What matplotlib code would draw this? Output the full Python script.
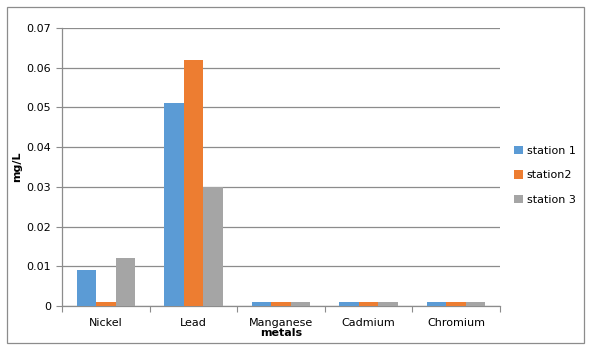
import numpy as np
from matplotlib import pyplot as plt
from matplotlib.patches import Rectangle

# metal concentrations at each station
metals = ['Nickel', 'Lead', 'Manganese', 'Cadmium', 'Chromium']
station1 = [0.009, 0.051, 0.001, 0.001, 0.001]
station2 = [0.001, 0.062, 0.001, 0.001, 0.001]
station3 = [0.012, 0.030, 0.001, 0.001, 0.001]
series_names = ['station 1', 'station2', 'station 3']
colors = ['#5B9BD5', '#ED7D31', '#A5A5A5']

plt.rcParams['font.family'] = 'DejaVu Sans'
plt.rcParams['font.size'] = 8

fig = plt.figure(figsize=(5.93, 3.53), dpi=100)
ax = fig.add_axes([62 / 593, 47 / 353, 438 / 593, 278 / 353])

x = np.arange(len(metals))
w = 0.222
for i, vals in enumerate([station1, station2, station3]):
    ax.bar(x + (i - 1) * w, vals, w, color=colors[i], label=series_names[i], zorder=3)

ax.set_xlim(-0.5, len(metals) - 0.5)
ax.set_ylim(0, 0.07)
ax.set_yticks(np.arange(0, 0.071, 0.01))
ax.set_yticklabels(['0', '0.01', '0.02', '0.03', '0.04', '0.05', '0.06', '0.07'])
ax.yaxis.grid(True, color='#8c8c8c', linewidth=0.9, zorder=0)

# category labels in the middle, tick marks between categories
ax.set_xticks(np.arange(-0.5, len(metals), 1))
ax.set_xticklabels([])
ax.set_xticks(x, minor=True)
ax.set_xticklabels(metals, minor=True)
ax.tick_params(axis='x', which='minor', length=0, pad=9)
ax.tick_params(axis='x', which='major', length=4, color='#8c8c8c')
ax.tick_params(axis='y', length=4, color='#8c8c8c', pad=4)

for s in ['top', 'right']:
    ax.spines[s].set_visible(False)
for s in ['left', 'bottom']:
    ax.spines[s].set_color('#8c8c8c')
    ax.spines[s].set_linewidth(0.9)

ax.set_ylabel('mg/L', fontweight='bold', labelpad=3)
ax.set_xlabel('metals', fontweight='bold', labelpad=0)

ax.legend(loc='center left', bbox_to_anchor=(1.01, 0.47), frameon=False,
          handlelength=0.8, handleheight=0.8, handletextpad=0.3, labelspacing=1.3)

# outer chart border
fig.patches.append(Rectangle((7 / 593, 10 / 353), 577 / 593, 336 / 353,
                             transform=fig.transFigure, fill=False,
                             edgecolor='#8c8c8c', linewidth=0.9))

fig.savefig('out.png', dpi=100)
